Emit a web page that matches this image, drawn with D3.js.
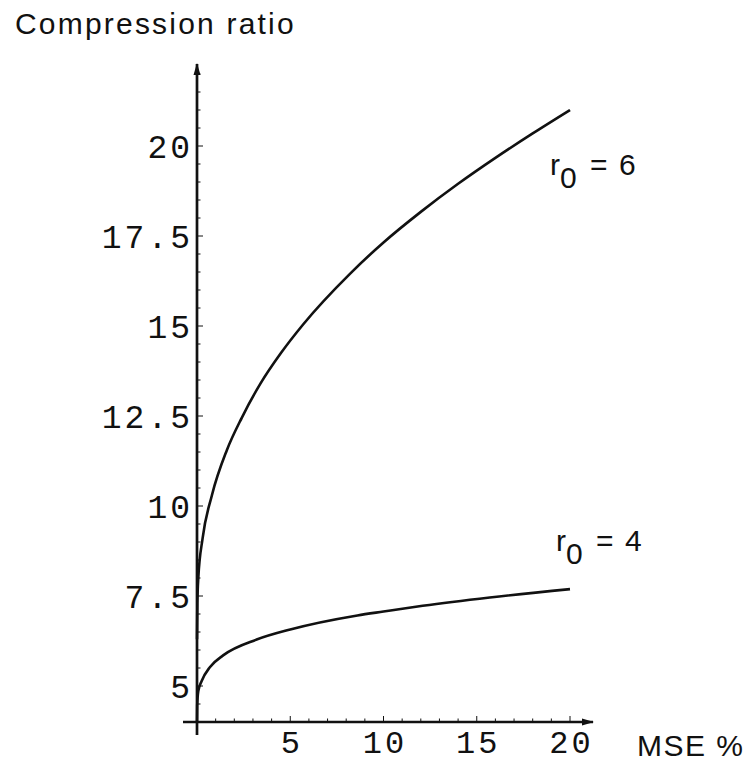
<!DOCTYPE html>
<html>
<head>
<meta charset="utf-8">
<script src="https://cdn.jsdelivr.net/npm/d3@7"></script>
<style>
  html, body { margin: 0; padding: 0; background: #fff; }
  svg { display: block; }
</style>
</head>
<body>
<div id="chart"></div>
<script>
// values
const mseR6 = [0, 0.02, 0.07, 0.3, 0.8, 1.6, 2.4, 3.4, 4.5, 5.7, 8.2, 10, 12, 14, 16, 18, 20]
const ratioR6 = [6.3, 7.3, 8.0, 9.1, 10.3, 11.55, 12.45, 13.4, 14.25, 15.05, 16.45, 17.32, 18.17, 18.95, 19.67, 20.35, 21.0]
const mseR4 = [0, 0.01, 0.07, 0.25, 0.7, 1.4, 3.2, 5, 8.6, 10, 12.1, 15.7, 20]
const ratioR4 = [4, 4.45, 4.86, 5.14, 5.53, 5.85, 6.29, 6.57, 6.96, 7.07, 7.23, 7.46, 7.69]
const xTicks = [5, 10, 15, 20]
const yTicks = [5, 7.5, 10, 12.5, 15, 17.5, 20]
const yTickLabels = ['5', '7.5', '10', '12.5', '15', '17.5', '20']
const curveNames = ['6', '4']

const width = 754
const height = 763

const svg = d3.select('#chart').append('svg')
  .attr('width', width)
  .attr('height', height)

const x = d3.scaleLinear().domain([0, 20]).range([197, 570])
const y = d3.scaleLinear().domain([4, 20]).range([722, 146])

const ink = '#111'
const mono = '"Liberation Mono", "DejaVu Sans Mono", monospace'
const sans = '"Liberation Sans", Arial, sans-serif'

// arrow heads
const defs = svg.append('defs')
defs.append('marker')
  .attr('id', 'arrow')
  .attr('viewBox', '0 0 12 8')
  .attr('refX', 11)
  .attr('refY', 4)
  .attr('markerWidth', 12)
  .attr('markerHeight', 8)
  .attr('markerUnits', 'userSpaceOnUse')
  .attr('orient', 'auto')
  .append('path')
  .attr('d', 'M0,0.5 L12,4 L0,7.5 Z')
  .attr('fill', ink)

// axes lines
svg.append('line')
  .attr('x1', 183).attr('x2', 593)
  .attr('y1', y(4)).attr('y2', y(4))
  .attr('stroke', ink).attr('stroke-width', 2.7)
  .attr('marker-end', 'url(#arrow)')

svg.append('line')
  .attr('x1', x(0)).attr('x2', x(0))
  .attr('y1', 735).attr('y2', 64)
  .attr('stroke', ink).attr('stroke-width', 2.7)
  .attr('marker-end', 'url(#arrow)')

// minor + major ticks
const yMinor = d3.range(4.5, 22.01, 0.5)
svg.append('g')
  .selectAll('line')
  .data(yMinor)
  .enter()
  .append('line')
  .attr('x1', x(0))
  .attr('x2', d => x(0) + (yTicks.includes(d) ? 6 : 3.5))
  .attr('y1', d => y(d)).attr('y2', d => y(d))
  .attr('stroke', ink).attr('stroke-width', 1)

const xMinor = d3.range(1, 21, 1)
svg.append('g')
  .selectAll('line')
  .data(xMinor)
  .enter()
  .append('line')
  .attr('x1', d => x(d)).attr('x2', d => x(d))
  .attr('y1', y(4))
  .attr('y2', d => y(4) - (xTicks.includes(d) ? 6 : 3.5))
  .attr('stroke', ink).attr('stroke-width', 1)

// tick labels (Courier-like, a bit spaced out)
svg.append('g')
  .selectAll('text')
  .data(yTicks)
  .enter()
  .append('text')
  .attr('x', 193)
  .attr('y', d => y(d))
  .attr('dy', '0.36em')
  .attr('text-anchor', 'end')
  .attr('font-family', mono)
  .attr('font-size', 33)
  .attr('letter-spacing', 3)
  .attr('fill', ink)
  .text((d, i) => yTickLabels[i])

svg.append('g')
  .selectAll('text')
  .data(xTicks)
  .enter()
  .append('text')
  .attr('x', d => x(d) + 1.5)
  .attr('y', 753)
  .attr('text-anchor', 'middle')
  .attr('font-family', mono)
  .attr('font-size', 32)
  .attr('letter-spacing', 3)
  .attr('fill', ink)
  .text(d => d)

// curves
const line = d3.line()
  .curve(d3.curveMonotoneX)
  .x(d => x(d[0]))
  .y(d => y(d[1]))

const series = [
  d3.zip(mseR6, ratioR6),
  d3.zip(mseR4, ratioR4)
]

svg.append('g')
  .selectAll('path')
  .data(series)
  .enter()
  .append('path')
  .attr('d', d => line(d))
  .attr('fill', 'none')
  .attr('stroke', ink)
  .attr('stroke-width', 2.6)

// axis titles
svg.append('text')
  .attr('x', 15).attr('y', 34)
  .attr('font-family', sans)
  .attr('font-size', 30)
  .attr('letter-spacing', 2.2)
  .attr('fill', ink)
  .text('Compression ratio')

svg.append('text')
  .attr('x', 637).attr('y', 756)
  .attr('font-family', sans)
  .attr('font-size', 30)
  .attr('letter-spacing', 1.5)
  .attr('fill', ink)
  .text('MSE %')

// curve labels: r with a full-size subscript 0
const labelPos = [[550, 175], [556, 551]]
const lab = svg.append('g')
  .selectAll('g')
  .data(curveNames)
  .enter()
  .append('g')
  .attr('transform', (d, i) => `translate(${labelPos[i][0]}, ${labelPos[i][1]})`)
  .attr('font-family', sans)
  .attr('font-size', 30)
  .attr('fill', ink)

lab.append('text').attr('x', 0).attr('y', 0).text('r')
lab.append('text').attr('x', 10).attr('y', 13).text('0')
lab.append('text').attr('x', 40).attr('y', 0).text('=')
lab.append('text').attr('x', 69).attr('y', 0).text(d => d)
</script>
</body>
</html>
